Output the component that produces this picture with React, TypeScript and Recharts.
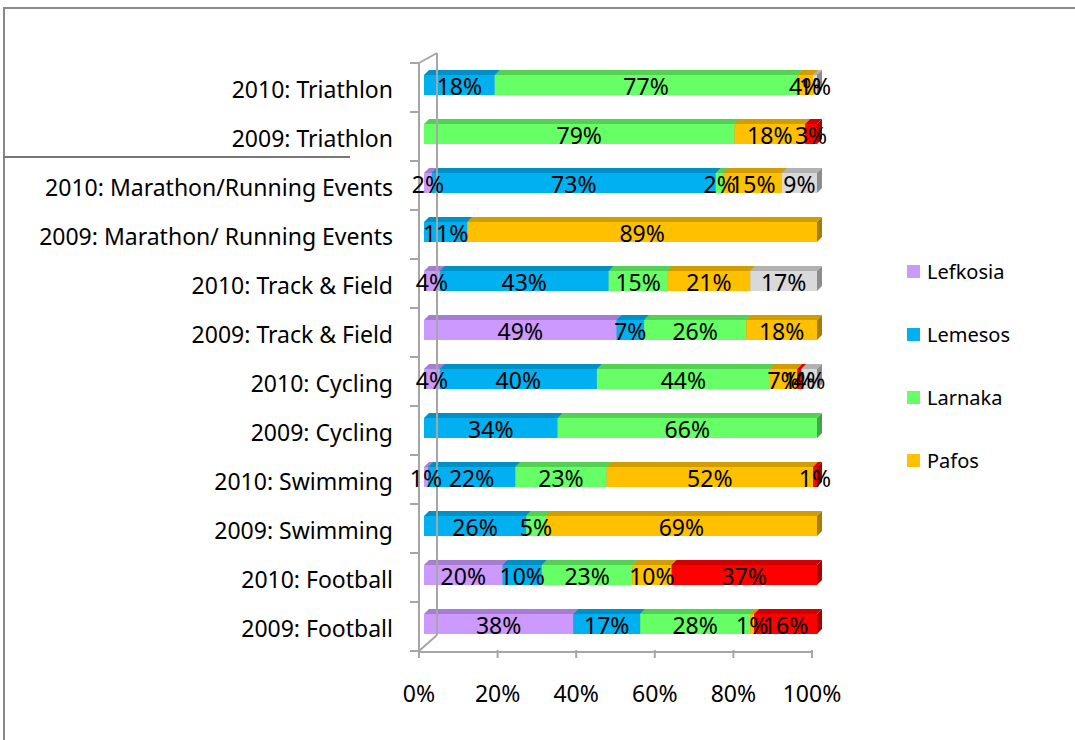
import React from "react";
import { BarChart, Bar, XAxis, YAxis, Legend, LabelList } from "recharts";

const categories = [
  "2010: Triathlon",
  "2009: Triathlon",
  "2010: Marathon/Running Events",
  "2009: Marathon/ Running Events",
  "2010: Track & Field",
  "2009: Track & Field",
  "2010: Cycling",
  "2009: Cycling",
  "2010: Swimming",
  "2009: Swimming",
  "2010: Football",
  "2009: Football",
];

const lefkosia = [0, 0, 2, 0, 4, 49, 4, 0, 1, 0, 20, 38];
const lemesos = [18, 0, 73, 11, 43, 7, 40, 34, 22, 26, 10, 17];
const larnaka = [77, 79, 2, 0, 15, 26, 44, 66, 23, 5, 23, 28];
const pafos = [4, 18, 15, 89, 21, 18, 7, 0, 52, 69, 10, 1];
const ammochostos = [0, 3, 0, 0, 0, 0, 1, 0, 1, 0, 37, 16];
const other = [1, 0, 9, 0, 17, 0, 4, 0, 0, 0, 0, 0];

const xTicks = [0, 0.2, 0.4, 0.6, 0.8, 1];

const series = [
  { key: "Lefkosia", values: lefkosia, color: "#CC99FF" },
  { key: "Lemesos", values: lemesos, color: "#00B0F0" },
  { key: "Larnaka", values: larnaka, color: "#66FF66" },
  { key: "Pafos", values: pafos, color: "#FFC000" },
  { key: "Ammochostos", values: ammochostos, color: "#FF0000" },
  { key: "Other", values: other, color: "#D9D9D9" },
];
// the original legend only shows the first four
const legendNames = ["Lefkosia", "Lemesos", "Larnaka", "Pafos"];

const data = categories.map((name, i) => {
  const row: Record<string, any> = { name };
  series.forEach((s) => (row[s.key] = s.values[i]));
  return row;
});

const FONT = "'Noto Sans', 'Open Sans', sans-serif";
const AXIS = "#A6A6A6";
const D = 5; // 3d depth
const TOP = 58;
const BOTTOM = 646;
const BAND = (BOTTOM - TOP) / categories.length;
const FS = 23;

function darken(hex: string, f: number) {
  const n = parseInt(hex.slice(1), 16);
  const r = Math.round(((n >> 16) & 255) * f);
  const g = Math.round(((n >> 8) & 255) * f);
  const b = Math.round((n & 255) * f);
  return `rgb(${r},${g},${b})`;
}

const Bar3D = (props: any) => {
  const { x, y, width, height, fill } = props;
  if (!width || width <= 0.3) return <g />;
  return (
    <g>
      <polygon
        points={`${x},${y + D} ${x + D},${y} ${x + width + D},${y} ${x + width},${y + D}`}
        fill={darken(fill, 0.82)}
      />
      <rect x={x} y={y + D} width={width} height={height - D} fill={fill} />
      <polygon
        points={`${x + width},${y + D} ${x + width + D},${y} ${x + width + D},${y + height - D} ${x + width},${y + height}`}
        fill={darken(fill, 0.65)}
      />
    </g>
  );
};

const renderLabel = (p: any) => {
  const { x, y, width, height, value } = p;
  if (!value) return null;
  return (
    <text
      x={x + width / 2}
      y={y + height / 2 + 3}
      textAnchor="middle"
      dominantBaseline="central"
      fontFamily={FONT}
      fontSize={FS}
      fill="#000"
    >
      {value}%
    </text>
  );
};

const CatTick = (props: any) => {
  const { x, y, payload, index } = props;
  const last = index === categories.length - 1;
  const top = y - BAND / 2;
  const bot = y + BAND / 2;
  return (
    <g>
      <line x1={x - 14} x2={x - D} y1={top + D} y2={top + D} stroke={AXIS} strokeWidth={2} />
      {last && <line x1={x - 14} x2={x - D} y1={bot + D} y2={bot + D} stroke={AXIS} strokeWidth={2} />}
      <line x1={x - D} x2={x - D} y1={top + D} y2={bot + D} stroke={AXIS} strokeWidth={2} />
      <line x1={x + 13} x2={x + 13} y1={top - D} y2={last ? bot - 11 : bot - D} stroke={AXIS} strokeWidth={2} />
      {index === 0 && <line x1={x - D} y1={top + D} x2={x + 13} y2={top - D} stroke={AXIS} strokeWidth={2} />}
      {last && <line x1={x - D} y1={bot + D} x2={x + 13} y2={bot - 11} stroke={AXIS} strokeWidth={2} />}
      <text
        x={x - 31}
        y={y + 6}
        textAnchor="end"
        dominantBaseline="central"
        fontFamily={FONT}
        fontSize={FS}
        fill="#000"
      >
        {payload.value}
      </text>
    </g>
  );
};

const PctTick = (props: any) => {
  const { x, y, payload } = props;
  return (
    <g>
      <line x1={x - D} x2={x - D} y1={y + 4} y2={y + 12} stroke={AXIS} strokeWidth={2} />
      <text
        x={x - D}
        y={y + 47}
        textAnchor="middle"
        dominantBaseline="central"
        fontFamily={FONT}
        fontSize={FS}
        fill="#000"
      >
        {Math.round(payload.value * 100)}%
      </text>
    </g>
  );
};

const LegendBox = (props: any) => {
  const all = props.payload || [];
  const items = legendNames
    .map((n) => all.find((p: any) => p.value === n))
    .filter(Boolean);
  return (
    <div style={{ fontFamily: FONT, fontSize: 20 }}>
      {items.map((p: any) => (
        <div key={p.value} style={{ display: "flex", alignItems: "center", height: 63 }}>
          <span style={{ width: 13, height: 13, background: p.color, marginRight: 7, display: "inline-block" }} />
          <span>{p.value}</span>
        </div>
      ))}
    </div>
  );
};

export default function App() {
  return (
    <div style={{ position: "absolute", left: 0, top: 0, width: 1075, height: 740, background: "#fff", overflow: "hidden" }}>
      <div style={{ position: "absolute", left: 3, top: 7, width: 1100, height: 760, borderTop: "2px solid #888", borderLeft: "2px solid #888" }} />
      <div style={{ position: "absolute", left: 3, top: 156, width: 347, height: 0, borderTop: "2px solid #777" }} />
      <BarChart
        width={1075}
        height={740}
        data={data}
        layout="vertical"
        stackOffset="expand"
        barSize={25}
        margin={{ top: TOP, right: 258, bottom: 0, left: 0 }}
        style={{ position: "absolute", left: 0, top: 0 }}
      >
        <XAxis
          type="number"
          domain={[0, 1]}
          ticks={xTicks}
          height={740 - BOTTOM}
          tickSize={0}
          tickMargin={0}
          tickLine={false}
          axisLine={{ stroke: AXIS, strokeWidth: 2, transform: `translate(${-D}, 6)` } as any}
          tick={<PctTick />}
        />
        <YAxis
          type="category"
          dataKey="name"
          width={424}
          tickSize={0}
          tickMargin={0}
          axisLine={false}
          tickLine={false}
          interval={0}
          tick={<CatTick />}
        />
        <Legend
          layout="vertical"
          align="center"
          verticalAlign="middle"
          content={<LegendBox />}
          wrapperStyle={{ position: "absolute", left: 907, top: 240, width: 160 }}
        />
        {series.map((s) => (
          <Bar
            key={s.key}
            dataKey={s.key}
            name={s.key}
            stackId="a"
            fill={s.color}
            shape={<Bar3D />}
            isAnimationActive={false}
          >
            <LabelList dataKey={s.key} content={renderLabel} />
          </Bar>
        ))}
      </BarChart>
    </div>
  );
}
